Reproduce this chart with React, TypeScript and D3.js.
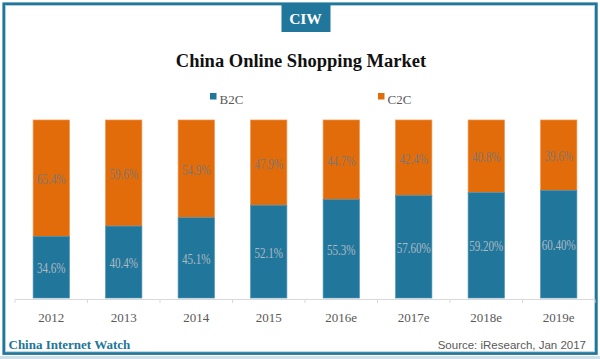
import React from "react";
import * as d3 from "d3";

const categories = ["2012", "2013", "2014", "2015", "2016e", "2017e", "2018e", "2019e"];
const b2c = [34.6, 40.4, 45.1, 52.1, 55.3, 57.6, 59.2, 60.4];
const c2c = [65.4, 59.6, 54.9, 47.9, 44.7, 42.4, 40.8, 39.6];
const b2cLabels = ["34.6%", "40.4%", "45.1%", "52.1%", "55.3%", "57.60%", "59.20%", "60.40%"];
const c2cLabels = ["65.4%", "59.6%", "54.9%", "47.9%", "44.7%", "42.4%", "40.8%", "39.6%"];
const seriesNames = ["B2C", "C2C"];

const W = 600;
const H = 359;
const BLUE = "#21769b";
const ORANGE = "#e36c0a";
const SERIF = "'Liberation Serif', 'Times New Roman', serif";

export default function App() {
  const x = d3.scaleBand<string>().domain(categories).range([15, 595]).paddingInner(0.5).paddingOuter(0.25);
  const y = d3.scaleLinear().domain([0, 100]).range([298, 120]);
  const bw = x.bandwidth();
  const step = x.step();
  const boundaries = categories.map((c) => (x(c) as number) - (step - bw) / 2);
  boundaries.push(595);

  return (
    <svg width={W} height={H} style={{ position: "absolute", left: 0, top: 0 }} xmlns="http://www.w3.org/2000/svg">
      <rect x={0} y={0} width={W} height={H} fill="#ffffff" />
      <rect x={0} y={356} width={W} height={3} fill="#cfe0ea" />
      {/* frame */}
      <rect x={3.8} y={3.8} width={592.5} height={349.7} fill="none" stroke={BLUE} strokeWidth={2.8} />
      <rect x={5.6} y={5.6} width={588.9} height={346.1} fill="none" stroke="#a9c8d8" strokeWidth={0.8} />
      {/* CIW badge */}
      <rect x={281.5} y={3} width={49} height={29} fill={BLUE} />
      <text x={305.5} y={23.5} textAnchor="middle" fill="#ffffff" fontFamily={SERIF} fontWeight="bold" fontSize={15.5}>CIW</text>
      {/* title */}
      <text x={301} y={67} textAnchor="middle" fill="#111111" fontFamily={SERIF} fontWeight="bold" fontSize={18.5}>China Online Shopping Market</text>
      {/* legend */}
      {seriesNames.map((n, i) => {
        const lx = i === 0 ? 210 : 378;
        return (
          <g key={n}>
            <rect x={lx} y={93} width={6.5} height={6.5} fill={i === 0 ? BLUE : ORANGE} />
            <text x={lx + 9.5} y={103.5} fill="#595959" fontFamily={SERIF} fontSize={13}>{n}</text>
          </g>
        );
      })}
      {/* axis */}
      <line x1={15} x2={595} y1={299.5} y2={299.5} stroke="#d9d9d9" strokeWidth={1} />
      {boundaries.map((b, i) => (
        <line key={i} x1={b} x2={b} y1={299.5} y2={303} stroke="#d9d9d9" strokeWidth={1} />
      ))}
      {/* bars */}
      {categories.map((c, i) => {
        const bx = x(c) as number;
        const yB = y(b2c[i]);
        const yT = y(b2c[i] + c2c[i]);
        const cx = bx + bw / 2;
        const bMid = (y(0) + yB) / 2;
        const cMid = (yB + yT) / 2;
        return (
          <g key={c}>
            <rect x={bx} y={yT} width={bw} height={yB - yT} fill={ORANGE} stroke="#f0904a" strokeWidth={0.7} />
            <rect x={bx} y={yB} width={bw} height={y(0) - yB} fill={BLUE} stroke="#4a90b4" strokeWidth={0.7} />
            <g transform={`translate(${cx},${cMid + 6}) scale(0.74,1)`}>
              <text x={0} y={0} textAnchor="middle" fill="#7d7670" fontFamily={SERIF} fontSize={15}>{c2cLabels[i]}</text>
            </g>
            <g transform={`translate(${cx},${bMid + 6}) scale(0.74,1)`}>
              <text x={0} y={0} textAnchor="middle" fill="#b0bac2" fontFamily={SERIF} fontSize={15}>{b2cLabels[i]}</text>
            </g>
            <text x={cx} y={322} textAnchor="middle" fill="#595959" fontFamily={SERIF} fontSize={13}>{c}</text>
          </g>
        );
      })}
      {/* footer */}
      <text x={8.5} y={349} fill={BLUE} fontFamily={SERIF} fontWeight="bold" fontSize={13}>China Internet Watch</text>
      <text x={586} y={348.5} textAnchor="end" fill="#595959" fontFamily="'Liberation Sans', Arial, sans-serif" fontSize={11.5}>Source: iResearch, Jan 2017</text>
    </svg>
  );
}
